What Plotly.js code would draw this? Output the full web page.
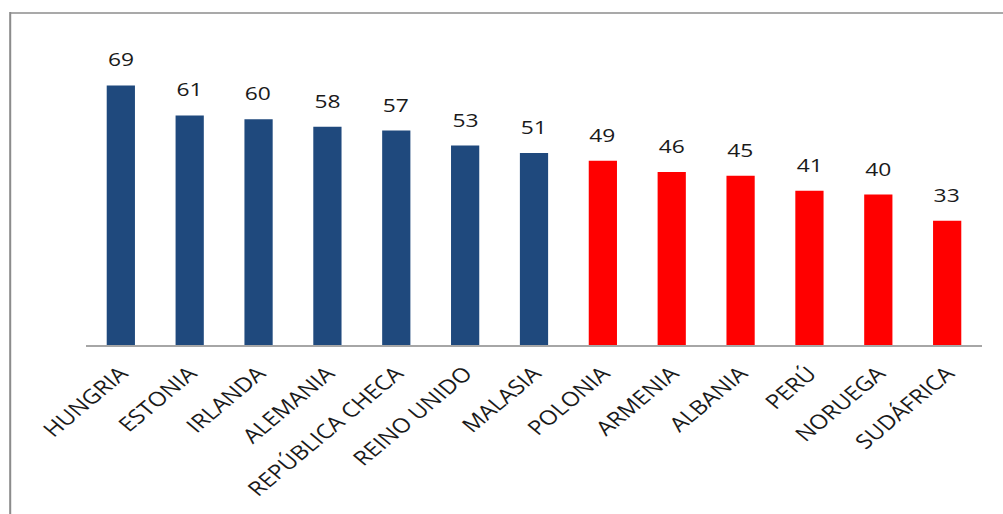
<!DOCTYPE html>
<html>
<head>
<meta charset="utf-8">
<script src="https://cdn.plot.ly/plotly-3.0.1.min.js"></script>
<style>
  html, body { margin: 0; padding: 0; background: #ffffff; overflow: hidden; width: 1003px; height: 514px; }
  /* the chart is laid out narrower and widened horizontally */
  #chart { position: absolute; left: 0; top: 0; width: 836px; height: 514px;
           transform: scaleX(1.2); transform-origin: 0 0; }
</style>
</head>
<body>
<div id="chart"></div>
<script>
// Countries, scores and the group each bar belongs to
const countries = ['HUNGRIA', 'ESTONIA', 'IRLANDA', 'ALEMANIA', 'REPÚBLICA CHECA', 'REINO UNIDO',
                   'MALASIA', 'POLONIA', 'ARMENIA', 'ALBANIA', 'PERÚ', 'NORUEGA', 'SUDÁFRICA'];
const scores = [69, 61, 60, 58, 57, 53, 51, 49, 46, 45, 41, 40, 33];
const groups = ['top', 'top', 'top', 'top', 'top', 'top', 'top',
                'low', 'low', 'low', 'low', 'low', 'low'];

const groupColor = { top: '#1F497D', low: '#FF0000' };
const fontFamily = '"Open Sans", "Noto Sans", sans-serif';

const W = 836, H = 514;
const M = { l: 72, r: 18, t: 44, b: 169 };
const plotW = W - M.l - M.r, plotH = H - M.t - M.b;
// pixel position -> paper fraction, for the outer frame
const px = v => (v - M.l) / plotW;
const py = v => (H - M.b - v) / plotH;

const trace = {
  type: 'bar',
  x: countries,
  y: scores,
  width: 0.41,
  marker: { color: groups.map(g => groupColor[g]), line: { width: 0 } },
  hoverinfo: 'x+y'
};

const labels = countries.map((c, i) => ({
  x: c,
  y: scores[i],
  text: String(scores[i]),
  showarrow: false,
  xanchor: 'center',
  yanchor: 'bottom',
  yshift: 11,
  font: { family: fontFamily, size: 19, color: '#1a1a1a' }
}));

const frameLine = { color: '#8c8c8c', width: 1.7 };
const frame = [
  { type: 'line', xref: 'paper', yref: 'paper', x0: px(8.5), x1: px(W + 40), y0: py(13), y1: py(13), line: frameLine },
  { type: 'line', xref: 'paper', yref: 'paper', x0: px(8.5), x1: px(8.5), y0: py(12), y1: py(H + 40), line: frameLine }
];

const layout = {
  width: W,
  height: H,
  margin: { l: M.l, r: M.r, t: M.t, b: M.b, pad: 0 },
  paper_bgcolor: 'rgba(0,0,0,0)',
  plot_bgcolor: 'rgba(0,0,0,0)',
  showlegend: false,
  xaxis: {
    type: 'category',
    tickangle: -45,
    showline: true,
    linecolor: '#a6a6a6',
    linewidth: 2,
    ticks: '',
    ticklabelstandoff: 7,
    showgrid: false,
    zeroline: false,
    tickfont: { family: fontFamily, size: 20, color: '#1a1a1a' }
  },
  yaxis: {
    range: [0, 80],
    visible: false,
    showgrid: false,
    zeroline: false
  },
  shapes: frame,
  annotations: labels
};

Plotly.newPlot('chart', [trace], layout, { displayModeBar: false, staticPlot: true });
</script>
</body>
</html>
